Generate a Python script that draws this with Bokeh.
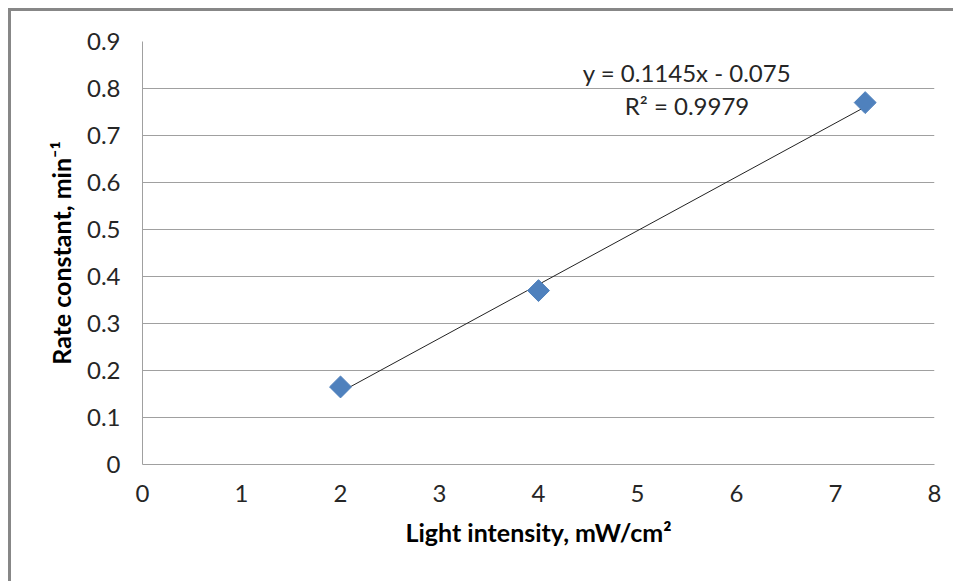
import numpy as np
from bokeh.plotting import figure
from bokeh.models import FixedTicker, Label, Range1d
from bokeh.embed import file_html
from bokeh.resources import INLINE
from bokeh.core.properties import value

# ---- data ----
light_intensity = [2.0, 4.0, 7.3]
rate_constant = [0.165, 0.37, 0.77]
trend_slope = 0.1145
trend_intercept = -0.075
r_squared = 0.9979

x_ticks = [0, 1, 2, 3, 4, 5, 6, 7, 8]
x_tick_labels = ["0", "1", "2", "3", "4", "5", "6", "7", "8"]
y_ticks = [0, 0.1, 0.2, 0.3, 0.4, 0.5, 0.6, 0.7, 0.8, 0.9]
y_tick_labels = ["0", "0.1", "0.2", "0.3", "0.4", "0.5", "0.6", "0.7", "0.8", "0.9"]
x_title = "Light intensity, mW/cm²"
y_title = "Rate constant, min⁻¹"

FONT = "Lato"
GRID = "#a0a0a0"

p = figure(
    width=945, height=573,
    x_range=Range1d(0, 8), y_range=Range1d(0, 0.9),
    output_backend="svg", toolbar_location=None,
    min_border_left=131, min_border_right=22,
    min_border_top=30, min_border_bottom=120,
)
p.styles = {"margin-left": "8px", "margin-top": "8px",
            "border-left": "3px solid #878787", "border-top": "3px solid #878787"}
p.outline_line_color = None
p.background_fill_color = "white"
p.border_fill_color = "white"

# grid
p.xgrid.grid_line_color = None
p.ygrid.grid_line_color = GRID
p.ygrid.grid_line_width = 1
p.ygrid.ticker = FixedTicker(ticks=y_ticks)

for ax in (p.xaxis[0], p.yaxis[0]):
    ax.axis_line_color = GRID
    ax.axis_line_width = 1
    ax.major_tick_in = 0
    ax.major_tick_out = 0
    ax.minor_tick_in = 0
    ax.minor_tick_out = 0
    ax.major_label_text_font = FONT
    ax.major_label_text_font_size = "24px"
    ax.major_label_text_color = "#262626"
    ax.axis_label_text_font = FONT
    ax.axis_label_text_font_style = "bold"
    ax.axis_label_text_font_size = "25px"
    ax.axis_label_text_color = "#000000"

p.xaxis.ticker = FixedTicker(ticks=x_ticks)
p.xaxis.major_label_overrides = {t: l for t, l in zip(x_ticks, x_tick_labels)}
p.yaxis.ticker = FixedTicker(ticks=y_ticks)
p.yaxis.major_label_overrides = {t: l for t, l in zip(y_ticks, y_tick_labels)}
p.xaxis.axis_label = x_title
p.yaxis.axis_label = y_title
p.xaxis.major_label_standoff = 20
p.xaxis.axis_label_standoff = 12
p.yaxis.major_label_standoff = 22
p.yaxis.axis_label_standoff = 8

# trendline
xs = np.array([min(light_intensity), max(light_intensity)])
p.line(xs, trend_slope * xs + trend_intercept, line_color="#222222", line_width=1)

# markers (diamonds)
p.scatter(light_intensity, rate_constant, marker="square", size=15.5, angle=np.pi / 4,
          fill_color="#4F81BD", line_color="#4F81BD")

eq_text = f"y = {trend_slope}x - {abs(trend_intercept)}"
r2_text = f"R² = {r_squared}"
p.add_layout(Label(x=5.5, y=0.834, text=eq_text, text_align="center", text_baseline="middle",
                   text_font=FONT, text_font_size="24px", text_color="#262626"))
p.add_layout(Label(x=5.5, y=0.764, text=r2_text, text_align="center", text_baseline="middle",
                   text_font=FONT, text_font_size="24px", text_color="#262626"))

open("out.html", "w").write(file_html(p, INLINE))
